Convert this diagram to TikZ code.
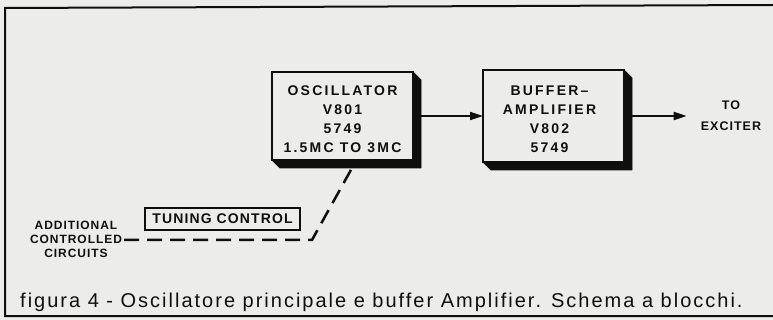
\documentclass[tikz,border=0pt]{standalone}
\usepackage{fontspec}
\setmainfont{Liberation Sans}
\newfontfamily\blockfont[LetterSpace=16]{Liberation Sans Bold}
\newfontfamily\labelfont[LetterSpace=8]{Liberation Sans Bold}
\newfontfamily\capfont[LetterSpace=10]{Liberation Sans}
\usetikzlibrary{arrows.meta}
\definecolor{paper}{RGB}{236,236,234}
\definecolor{ink}{RGB}{15,15,15}
\tikzset{
  blockbox/.style={draw=ink, line width=2pt, fill=paper, inner sep=0pt, outer sep=0pt,
    align=center, font=\blockfont\fontsize{14}{19}\selectfont, text=ink},
  shadowfill/.style={fill=ink, draw=ink, line width=0.8pt, line join=round},
  arr/.style={draw=ink, line width=2pt, -{Triangle[length=13pt,width=8pt]}},
  dashline/.style={draw=ink, line width=2.5pt, dash pattern=on 15pt off 8pt},
  lbl/.style={align=center, text=ink, inner sep=2pt},
  tunebox/.style={draw=ink, line width=2.5pt, minimum width=155pt, minimum height=22pt,
    inner sep=0pt, font=\labelfont\fontsize{14}{16}\selectfont, text=ink},
  framebar/.style={draw=ink, line width=2pt}
}
\begin{document}
\begin{tikzpicture}[x=1pt,y=-1pt]
\useasboundingbox (0,0) rectangle (773,320);
\fill[paper] (0,0) rectangle (773,320);
% frame
\draw[framebar] (773,5) -- (5,8) -- (5,316) -- (773,316);
% blocks
\node[blockbox, minimum width=141pt, minimum height=88pt] (osc) at (342.5,116)
  {\rule{0pt}{16pt}OSCILLATOR\\V801\\5749\\1.5MC TO 3MC};
\node[blockbox, minimum width=141pt, minimum height=92pt] (buf) at (553.5,116)
  {\rule{0pt}{16pt}\hspace*{-8pt}BUFFER\textendash\\\hspace*{-8pt}AMPLIFIER\\\hspace*{-8pt}V802\\\hspace*{-8pt}5749};
% 3D shadows
\foreach \n in {osc,buf}{
  \filldraw[shadowfill] (\n.north east) -- ++(8,8) -- ([shift={(8,8)}]\n.south east)
    -- ([shift={(8,8)}]\n.south west) -- (\n.south west) -- (\n.south east) -- cycle;
}
% output label
\node[lbl, font=\labelfont\fontsize{12.5}{21}\selectfont, inner xsep=14pt] (exc) at (731,116) {TO\\EXCITER};
% connectors
\draw[arr] ([xshift=8pt]osc.east) -- (buf.west);
\draw[arr] ([xshift=8pt]buf.east) -- (exc.west);
% tuning control
\node[tunebox] (tune) at (222.5,219) {TUNING CONTROL};
\node[lbl, font=\labelfont\fontsize{12}{14}\selectfont] (addl) at (76,239)
  {ADDITIONAL\\CONTROLLED\\CIRCUITS};
\coordinate (bend) at (312,240);
\draw[dashline] (addl.east |- bend) -- (bend) -- ([shift={(9.5,8)}]osc.south);
% caption
\node[anchor=base west, inner sep=0pt, font=\capfont\fontsize{20}{22}\selectfont, text=ink] (cap) at (20,307)
  {figura 4 - Oscillatore principale e buffer Amplifier. Schema a blocchi.};
\end{tikzpicture}
\end{document}
